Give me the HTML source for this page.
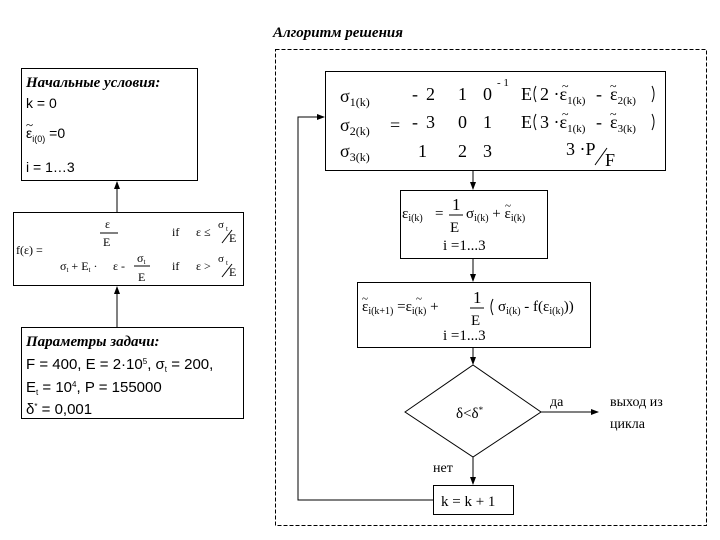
<!DOCTYPE html>
<html><head><meta charset="utf-8"><style>
body{margin:0;background:#fff}
svg{display:block}
text{font-family:"Liberation Serif","DejaVu Serif",serif;fill:#000}
.s{font-family:"Liberation Sans",sans-serif}
</style></head><body>
<svg width="720" height="540" viewBox="0 0 720 540" xmlns="http://www.w3.org/2000/svg">
<defs><marker id="a" markerWidth="8" markerHeight="8" refX="7" refY="4" orient="auto" markerUnits="userSpaceOnUse"><path d="M0,1 L8,4 L0,7z" fill="#000"/></marker></defs>
<g fill="none" stroke="#000" stroke-width="1">
<rect x="275.5" y="49.5" width="431" height="476" stroke-dasharray="4,2"/>
<rect x="21.5" y="68.5" width="176" height="112"/>
<rect x="13.5" y="212.5" width="230" height="73"/>
<rect x="21.5" y="327.5" width="222" height="91"/>
<rect x="325.5" y="71.5" width="340" height="99"/>
<rect x="400.5" y="190.5" width="147" height="68"/>
<rect x="357.5" y="282.5" width="233" height="65"/>
<polygon points="405,412 473,365 541,412 473,457"/>
<rect x="433.5" y="485.5" width="80" height="29"/>
<line x1="117" y1="327" x2="117" y2="287" marker-end="url(#a)"/>
<line x1="117" y1="212" x2="117" y2="182" marker-end="url(#a)"/>
<line x1="473" y1="171" x2="473" y2="189" marker-end="url(#a)"/>
<line x1="473" y1="259" x2="473" y2="281" marker-end="url(#a)"/>
<line x1="473" y1="348" x2="473" y2="364" marker-end="url(#a)"/>
<line x1="473" y1="457" x2="473" y2="484" marker-end="url(#a)"/>
<line x1="541" y1="412" x2="598" y2="412" marker-end="url(#a)"/>
<polyline points="433,500 298,500 298,117 324,117" marker-end="url(#a)"/>
<line x1="595" y1="165" x2="607" y2="148"/>
<line x1="222" y1="243" x2="232" y2="230"/>
<line x1="222" y1="277" x2="232" y2="264"/>
<line x1="100" y1="233" x2="118" y2="233"/>
<line x1="134" y1="266" x2="150" y2="266"/>
<line x1="449" y1="215" x2="463" y2="215"/>
<line x1="470" y1="308" x2="484" y2="308"/>
<path d="M536,86 q-4,8 0,16 M652,86 q4,8 0,16 M536,114 q-4,8 0,16 M652,114 q4,8 0,16 M493,299 q-4,8 0,16"/>
</g>
<text x="273" y="37" font-size="15" font-weight="bold" font-style="italic">Алгоритм решения</text>
<g font-size="14" class="s">
<text x="26" y="87" font-weight="bold" font-style="italic" font-family="Liberation Serif" font-size="15">Начальные условия:</text>
<text x="26" y="108" class="s">k = 0</text>
<text x="26" y="138" class="s" font-family="Liberation Serif">ε<tspan font-size="9" dy="4">i(0)</tspan><tspan dy="-4">  =0</tspan></text>
<text x="26" y="129" font-size="13">~</text>
<text x="26" y="172" class="s">i = 1…3</text>
</g>
<g font-size="12">
<text x="16" y="254">f(ε) =</text>
<text x="105" y="228">ε</text>
<text x="103" y="246">E</text>
<text x="172" y="236">if</text><text x="196" y="236">ε ≤</text><text x="218" y="228" font-size="11">σ</text><text x="226" y="231" font-size="7">t</text><text x="229" y="242">E</text>
<text x="60" y="270">σ<tspan font-size="7" dy="2">t</tspan><tspan dy="-2"> + E</tspan><tspan font-size="7" dy="2">t</tspan><tspan dy="-2"> ·</tspan></text>
<text x="113" y="270">ε -</text><text x="137" y="262">σ<tspan font-size="7" dy="2">t</tspan></text><text x="138" y="281">E</text>
<text x="172" y="270">if</text><text x="196" y="270">ε &gt;</text><text x="218" y="262" font-size="11">σ</text><text x="226" y="265" font-size="7">t</text><text x="229" y="276">E</text>
</g>
<g font-size="15" class="s">
<text x="26" y="346" font-weight="bold" font-style="italic" font-family="Liberation Serif">Параметры задачи:</text>
<text x="26" y="369" class="s">F = 400, E = 2·10<tspan font-size="8" dy="-5">5</tspan><tspan dy="5">, σ</tspan><tspan font-size="8" dy="3">t</tspan><tspan dy="-3"> = 200,</tspan></text>
<text x="26" y="392" class="s">E<tspan font-size="8" dy="3">t</tspan><tspan dy="-3"> = 10</tspan><tspan font-size="8" dy="-5">4</tspan><tspan dy="5">, P = 155000</tspan></text>
<text x="26" y="414" class="s">δ<tspan font-size="8" dy="-5">*</tspan><tspan dy="5"> = 0,001</tspan></text>
</g>
<g font-size="18">
<text x="340" y="102">σ<tspan font-size="12" dy="4">1(k)</tspan></text>
<text x="340" y="131">σ<tspan font-size="12" dy="4">2(k)</tspan></text>
<text x="340" y="157">σ<tspan font-size="12" dy="4">3(k)</tspan></text>
<text x="390" y="131">=</text>
<text x="412" y="100">-</text><text x="426" y="100">2</text><text x="458" y="100">1</text><text x="483" y="100">0</text>
<text x="412" y="128">-</text><text x="426" y="128">3</text><text x="458" y="128">0</text><text x="483" y="128">1</text>
<text x="418" y="157">1</text><text x="458" y="157">2</text><text x="483" y="157">3</text>
<text x="497" y="86" font-size="11">- 1</text>
<text x="521" y="100">E</text><text x="540" y="100">2 ·ε<tspan font-size="11" dy="4">1(k)</tspan></text><text x="596" y="100">-</text><text x="610" y="100">ε<tspan font-size="11" dy="4">2(k)</tspan></text>
<text x="521" y="128">E</text><text x="540" y="128">3 ·ε<tspan font-size="11" dy="4">1(k)</tspan></text><text x="596" y="128">-</text><text x="610" y="128">ε<tspan font-size="11" dy="4">3(k)</tspan></text>
<text x="562" y="90" font-size="12">~</text><text x="610" y="90" font-size="12">~</text>
<text x="562" y="118" font-size="12">~</text><text x="610" y="118" font-size="12">~</text>
<text x="566" y="155">3 ·P</text><text x="605" y="166">F</text>
</g>
<g font-size="15">
<text x="402" y="218">ε<tspan font-size="10" dy="3">i(k)</tspan></text><text x="435" y="218">=</text>
<text x="452" y="210" font-size="17">1</text><text x="450" y="232">E</text>
<text x="466" y="218">σ<tspan font-size="10" dy="3">i(k)</tspan><tspan dy="-3"> + ε</tspan><tspan font-size="10" dy="3">i(k)</tspan></text>
<text x="505" y="209" font-size="11">~</text>
<text x="443" y="250">i =1...3</text>
<text x="362" y="311">ε<tspan font-size="10" dy="3">i(k+1)</tspan><tspan dy="-3"> =ε</tspan><tspan font-size="10" dy="3">i(k)</tspan><tspan dy="-3"> +</tspan></text>
<text x="362" y="302" font-size="11">~</text><text x="416" y="302" font-size="11">~</text>
<text x="473" y="303" font-size="17">1</text><text x="471" y="325">E</text>
<text x="498" y="311">σ<tspan font-size="10" dy="3">i(k)</tspan><tspan dy="-3">  -  f(ε</tspan><tspan font-size="10" dy="3">i(k)</tspan><tspan dy="-3">))</tspan></text>
<text x="443" y="340">i =1...3</text>
<text x="456" y="418">δ&lt;δ<tspan font-size="9" dy="-5">*</tspan></text>
<text x="441" y="506">k = k + 1</text>
</g>
<g font-size="14">
<text x="550" y="406">да</text>
<text x="610" y="406">выход из</text>
<text x="610" y="428">цикла</text>
<text x="433" y="472">нет</text>
</g>
</svg>
</body></html>
